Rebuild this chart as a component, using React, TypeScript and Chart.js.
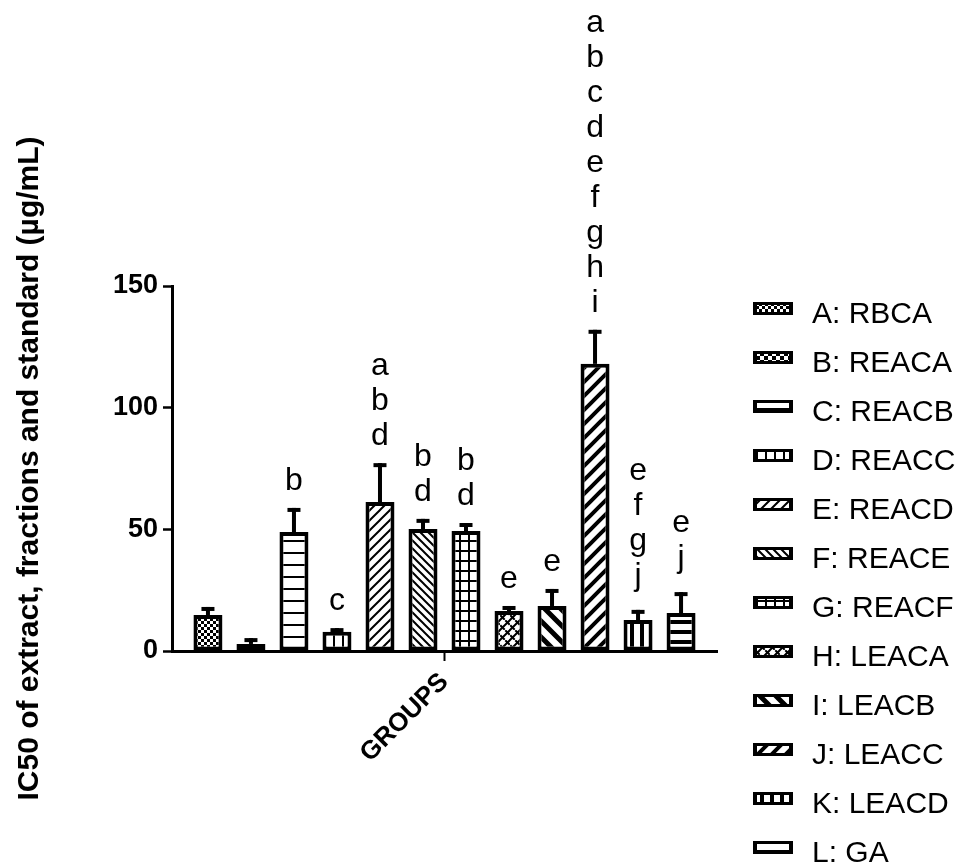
import React, { useEffect, useRef } from "react";
import { Chart, registerables } from "chart.js";

Chart.register(...registerables);

// ---- data ----
const groups = [
  "A: RBCA",
  "B: REACA",
  "C: REACB",
  "D: REACC",
  "E: REACD",
  "F: REACE",
  "G: REACF",
  "H: LEACA",
  "I: LEACB",
  "J: LEACC",
  "K: LEACD",
  "L: GA",
];
const ic50Means = [14.8, 2.9, 48.9, 7.9, 61.2, 50.1, 49.3, 16.4, 18.5, 118.0, 12.7, 15.6];
const ic50Errors = [3.3, 2.4, 9.9, 1.5, 16.0, 4.2, 3.3, 2.1, 7.0, 14.0, 4.2, 8.6];
const significance = ["", "", "b", "c", "abd", "bd", "bd", "e", "e", "abcdefghi", "efgj", "ej"];
const categoryLabels = ["GROUPS"];
const yTickValues = [0, 50, 100, 150];
const patternKinds = [
  "checkSmall",
  "checkLarge",
  "hLines",
  "vLines",
  "diagFwd",
  "diagBack",
  "grid",
  "weave",
  "diagBackThick",
  "diagFwdThick",
  "vThick",
  "hThick",
];

const FONT = '"Liberation Sans", Arial, sans-serif';

// ---- fill patterns ----
function drawSlashes(g: CanvasRenderingContext2D, s: number, w: number) {
  g.lineWidth = w;
  g.strokeStyle = "#000";
  g.lineCap = "square";
  g.beginPath();
  for (const c of [0, s, 2 * s]) {
    g.moveTo(-w, c + w);
    g.lineTo(c + w, -w);
  }
  g.stroke();
}

function makeTile(kind: string): HTMLCanvasElement {
  const c = document.createElement("canvas");
  let w = 8;
  let h = 8;
  switch (kind) {
    case "checkSmall": w = h = 6; break;
    case "checkLarge": w = h = 8; break;
    case "hLines": w = 12; h = 12; break;
    case "vLines": w = 9; h = 9; break;
    case "diagFwd": w = h = 10; break;
    case "diagBack": w = h = 8; break;
    case "grid": w = 9; h = 10; break;
    case "weave": w = h = 10; break;
    case "diagBackThick": w = h = 16; break;
    case "diagFwdThick": w = h = 14; break;
    case "vThick": w = 10; h = 10; break;
    case "hThick": w = 10; h = 10; break;
  }
  c.width = w;
  c.height = h;
  const g = c.getContext("2d")!;
  g.fillStyle = "#fff";
  g.fillRect(0, 0, w, h);
  g.fillStyle = "#000";
  switch (kind) {
    case "checkSmall":
      g.fillRect(0, 0, 3, 3);
      g.fillRect(3, 3, 3, 3);
      break;
    case "checkLarge":
      g.fillRect(0, 0, 4, 4);
      g.fillRect(4, 4, 4, 4);
      break;
    case "hLines":
      g.fillRect(0, 0, w, 2);
      break;
    case "vLines":
      g.fillRect(0, 0, 2, h);
      break;
    case "diagFwd":
      drawSlashes(g, w, 2);
      break;
    case "diagBack":
      g.translate(w, 0);
      g.scale(-1, 1);
      drawSlashes(g, w, 2);
      break;
    case "grid":
      g.fillRect(0, 0, w, 2);
      g.fillRect(0, 0, 2, h);
      break;
    case "weave":
      drawSlashes(g, w, 2);
      g.lineWidth = 2;
      g.beginPath();
      g.moveTo(1, 6);
      g.lineTo(4, 9);
      g.moveTo(6, 1);
      g.lineTo(9, 4);
      g.stroke();
      break;
    case "diagBackThick":
      g.translate(w, 0);
      g.scale(-1, 1);
      drawSlashes(g, w, 5);
      break;
    case "diagFwdThick":
      drawSlashes(g, w, 4);
      break;
    case "vThick":
      g.fillRect(0, 0, 4, h);
      break;
    case "hThick":
      g.fillRect(0, 0, w, 4);
      break;
  }
  return c;
}

// ---- error bars, significance letters and legend ----
const annotationPlugin = {
  id: "annotations",
  afterDatasetsDraw(chart: any) {
    const ctx: CanvasRenderingContext2D = chart.ctx;
    const yScale = chart.scales.y;
    ctx.save();
    chart.data.datasets.forEach((_ds: any, i: number) => {
      const bar = chart.getDatasetMeta(i).data[0];
      if (!bar) return;
      const x = bar.x;
      const top = yScale.getPixelForValue(ic50Means[i] + ic50Errors[i]);
      const base = bar.y;
      ctx.fillStyle = "#000";
      ctx.fillRect(x - 2, top, 4, base - top);
      ctx.fillRect(x - 6.5, top, 13, 4);

      const letters = significance[i].split("");
      if (!letters.length) return;
      ctx.font = `32px ${FONT}`;
      ctx.textAlign = "center";
      ctx.textBaseline = "alphabetic";
      const last = letters[letters.length - 1];
      const descent = Math.max(0, ctx.measureText(last).actualBoundingBoxDescent);
      const baseline = top - 18 - descent;
      letters.forEach((ch, k) => {
        const row = letters.length - 1 - k;
        ctx.fillText(ch, x, baseline - row * 35);
      });
    });
    ctx.restore();
  },
  afterDraw(chart: any) {
    const ctx: CanvasRenderingContext2D = chart.ctx;
    const area = chart.chartArea;
    const left = area.right + 36;
    const firstRow = area.top + 27;
    ctx.save();
    chart.data.datasets.forEach((ds: any, i: number) => {
      const cy = firstRow + i * 49;
      const sx = left;
      const sy = cy - 11;
      ctx.fillStyle = "#000";
      ctx.fillRect(sx, sy, 40, 13);
      ctx.fillStyle = ds.backgroundColor;
      ctx.fillRect(sx + 4, sy + 3, 32, 7);
      ctx.fillStyle = "#000";
      ctx.font = `30px ${FONT}`;
      ctx.textAlign = "left";
      ctx.textBaseline = "alphabetic";
      ctx.fillText(ds.label, left + 59, cy + 10);
    });
    ctx.restore();
  },
};

export default function App() {
  const canvasRef = useRef<HTMLCanvasElement | null>(null);

  useEffect(() => {
    document.body.style.margin = "0";
    const canvas = canvasRef.current;
    if (!canvas) return;
    const ctx = canvas.getContext("2d")!;

    const datasets = groups.map((label, i) => ({
      label,
      data: [ic50Means[i]],
      backgroundColor: ctx.createPattern(makeTile(patternKinds[i]), "repeat"),
      borderColor: "#000",
      borderWidth: 4,
      borderSkipped: false,
    }));

    const chart = new Chart(canvas, {
      type: "bar",
      data: { labels: categoryLabels, datasets: datasets as any },
      plugins: [annotationPlugin],
      options: {
        responsive: false,
        animation: false,
        layout: { padding: { top: 286, right: 243, left: 0, bottom: 0 } },
        plugins: {
          legend: { display: false },
          tooltip: { enabled: false },
        },
        datasets: {
          bar: { categoryPercentage: 0.947, barPercentage: 0.674 },
        },
        scales: {
          x: {
            type: "category",
            offset: true,
            grid: {
              display: true,
              drawOnChartArea: false,
              offset: false,
              drawTicks: true,
              tickLength: 10,
              tickWidth: 2,
              tickColor: "#000",
            },
            border: { display: true, color: "#000", width: 3 },
            ticks: {
              color: "#000",
              font: { family: FONT, size: 26, weight: "bold" },
              minRotation: 45,
              maxRotation: 45,
              padding: 6,
            },
            afterFit: (s: any) => {
              s.height = 863 - 651;
            },
          },
          y: {
            min: 0,
            max: 150,
            afterBuildTicks: (s: any) => {
              s.ticks = yTickValues.map((v) => ({ value: v }));
            },
            ticks: {
              color: "#000",
              font: { family: FONT, size: 27, weight: "bold" },
              padding: 5,
            },
            grid: {
              drawOnChartArea: false,
              tickLength: 9,
              tickWidth: 2.5,
              tickColor: "#000",
            },
            border: { color: "#000", width: 3 },
            title: {
              display: true,
              text: "IC50 of extract, fractions and standard (µg/mL)",
              color: "#000",
              font: { family: FONT, size: 30, weight: "bold" },
              padding: { top: 12, bottom: 0 },
            },
            afterFit: (s: any) => {
              s.width = 172;
            },
          },
        },
      } as any,
    });

    return () => chart.destroy();
  }, []);

  return (
    <div style={{ width: 960, height: 863 }}>
      <canvas ref={canvasRef} width={960} height={863} style={{ display: "block" }} />
    </div>
  );
}
